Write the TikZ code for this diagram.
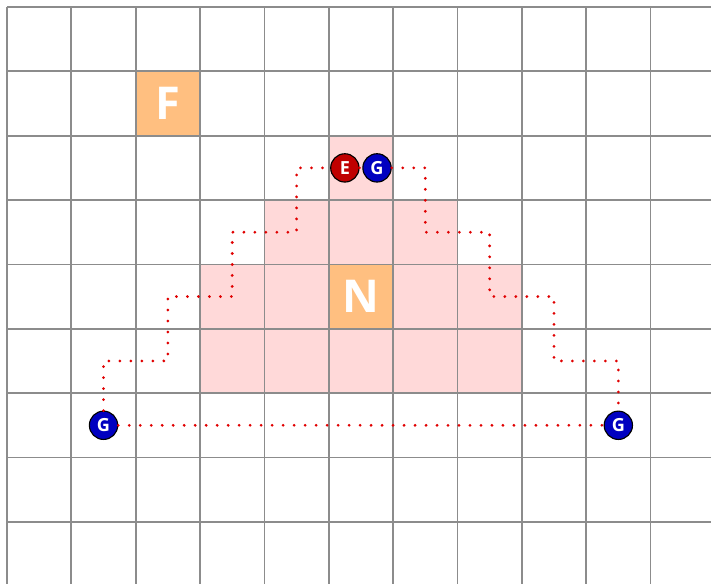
\documentclass[tikz,border=0pt]{standalone}
\usepackage{fontspec}
\setmainfont{Open Sans}
\usetikzlibrary{
    positioning
}
\definecolor{gridgray}{RGB}{140,140,140}
\definecolor{zonepink}{RGB}{255,217,217}
\definecolor{cellorange}{RGB}{255,191,128}
\definecolor{enemyred}{RGB}{192,0,0}
\definecolor{guardblue}{RGB}{0,0,192}
\definecolor{routered}{RGB}{224,0,0}

\begin{document}
\begin{tikzpicture}[
      x=1cm, y=-1cm,
      gridline/.style={draw=gridgray, line width=0.8pt},
      zone/.style={fill=zonepink},
      letterbox/.style={fill=cellorange, minimum size=1cm, inner sep=0pt, text=white, font=\bfseries\fontsize{20}{20}\selectfont},
      agent/.style={circle, draw=black, line width=0.5pt, minimum size=0.44cm, inner sep=0pt, text=white, font=\bfseries\fontsize{8}{8}\selectfont},
      route/.style={draw=routered, line width=1.35pt, line cap=round, dash pattern=on 0pt off 4.86pt}]
    \useasboundingbox (-0.109,-0.109) rectangle (10.94,8.951);
    \clip (-0.109,-0.109) rectangle (10.94,8.951);
    % danger zone
    \fill[zone] (5,2) rectangle (6,3);
    \fill[zone] (4,3) rectangle (7,4);
    \fill[zone] (3,4) rectangle (8,6);
    \node[letterbox] (fcell) at (2.5,1.5) {F};
    \node[letterbox] (ncell) at (5.5,4.5) {N};
    % grid
    \foreach \x in {0,...,11} \draw[gridline] (\x,0) -- (\x,9.2);
    \foreach \y in {0,...,9} \draw[gridline] (0,\y) -- (11.2,\y);
    % agents
    \node[agent, fill=enemyred] (enemy) at (5.25,2.5) {E};
    \node[agent, fill=guardblue] (gtop) at (5.75,2.5) {G};
    \node[agent, fill=guardblue] (gleft) at (1.5,6.5) {G};
    \node[agent, fill=guardblue] (gright) at (9.5,6.5) {G};
    % routes
    \draw[route] (gleft) |- (2.5,5.5) |- (3.5,4.5) |- (4.5,3.5) |- (enemy);
    \draw[route] (gtop) -| (6.5,3.5) -| (7.5,4.5) -| (8.5,5.5) -| (gright);
    \draw[route] (enemy) -- (gtop);
    \draw[route] (gleft) -- (gright);
  \end{tikzpicture}
\end{document}
